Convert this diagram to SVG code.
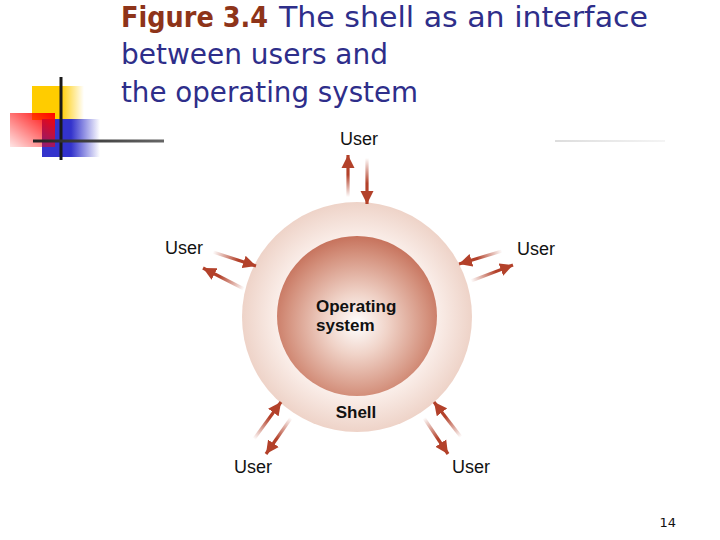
<svg xmlns="http://www.w3.org/2000/svg" width="720" height="540" viewBox="0 0 720 540">
<style>
.title{font-family:"DejaVu Sans","Verdana",sans-serif;font-size:29px;fill:#2e2e8a}
.fig{font-weight:bold;fill:#8e3419}
.user{font-family:"Liberation Sans",Arial,sans-serif;font-size:18px;fill:#111}
.bold{font-family:"Liberation Sans",Arial,sans-serif;font-size:17px;font-weight:bold;fill:#111}
.pg{font-family:"DejaVu Sans",sans-serif;font-size:13px;fill:#111}
.shaft{stroke-width:3.2;fill:none;marker-end:url(#ah)}
</style>
<defs>
<marker id="ah" markerUnits="userSpaceOnUse" markerWidth="14" markerHeight="14" viewBox="0 0 14 14" refX="13" refY="7" orient="auto">
<path d="M0,0.5 L13,7 L0,13.5 Z" fill="#b3412a"/>
</marker>
<radialGradient id="gOuter" cx="0.5" cy="0.5" r="0.5">
<stop offset="0.6" stop-color="#fdf6f3"/>
<stop offset="0.75" stop-color="#f8e9e3"/>
<stop offset="1" stop-color="#eed3c8"/>
</radialGradient>
<radialGradient id="gInner" cx="0.5" cy="0.55" r="0.55">
<stop offset="0" stop-color="#ffffff"/>
<stop offset="0.35" stop-color="#f0d3c8"/>
<stop offset="0.8" stop-color="#d4917d"/>
<stop offset="1" stop-color="#c6725c"/>
</radialGradient>
<linearGradient id="gYel" x1="0" y1="0" x2="1" y2="0">
<stop offset="0.55" stop-color="#ffcc00"/>
<stop offset="1" stop-color="#ffcc00" stop-opacity="0"/>
</linearGradient>
<linearGradient id="gRed" x1="0" y1="1" x2="1" y2="0">
<stop offset="0" stop-color="#ff0000" stop-opacity="0.1"/>
<stop offset="1" stop-color="#ff0000"/>
</linearGradient>
<linearGradient id="gBlue" x1="0" y1="0" x2="1" y2="0">
<stop offset="0.5" stop-color="#3333cc"/>
<stop offset="1" stop-color="#3333cc" stop-opacity="0"/>
</linearGradient>
<linearGradient id="gHl" gradientUnits="userSpaceOnUse" x1="33" y1="0" x2="164" y2="0">
<stop offset="0" stop-color="#222222"/>
<stop offset="1" stop-color="#666666"/>
</linearGradient>
<linearGradient id="gHr" gradientUnits="userSpaceOnUse" x1="555" y1="0" x2="665" y2="0">
<stop offset="0" stop-color="#dddddd"/>
<stop offset="1" stop-color="#f4f4f4"/>
</linearGradient>
<linearGradient id="a1" gradientUnits="userSpaceOnUse" x1="348" y1="197" x2="348" y2="160"><stop offset="0" stop-color="#b3412a" stop-opacity="0"/><stop offset="0.6" stop-color="#b3412a"/></linearGradient>
<linearGradient id="a2" gradientUnits="userSpaceOnUse" x1="367" y1="158" x2="367" y2="200"><stop offset="0" stop-color="#b3412a" stop-opacity="0"/><stop offset="0.6" stop-color="#b3412a"/></linearGradient>
<linearGradient id="a3" gradientUnits="userSpaceOnUse" x1="213" y1="252" x2="255" y2="265"><stop offset="0" stop-color="#b3412a" stop-opacity="0"/><stop offset="0.6" stop-color="#b3412a"/></linearGradient>
<linearGradient id="a4" gradientUnits="userSpaceOnUse" x1="244" y1="289" x2="203" y2="268"><stop offset="0" stop-color="#b3412a" stop-opacity="0"/><stop offset="0.6" stop-color="#b3412a"/></linearGradient>
<linearGradient id="a5" gradientUnits="userSpaceOnUse" x1="502" y1="251" x2="460" y2="263"><stop offset="0" stop-color="#b3412a" stop-opacity="0"/><stop offset="0.6" stop-color="#b3412a"/></linearGradient>
<linearGradient id="a6" gradientUnits="userSpaceOnUse" x1="471" y1="281" x2="512" y2="265"><stop offset="0" stop-color="#b3412a" stop-opacity="0"/><stop offset="0.6" stop-color="#b3412a"/></linearGradient>
<linearGradient id="a7" gradientUnits="userSpaceOnUse" x1="254" y1="439" x2="280" y2="403"><stop offset="0" stop-color="#b3412a" stop-opacity="0"/><stop offset="0.6" stop-color="#b3412a"/></linearGradient>
<linearGradient id="a8" gradientUnits="userSpaceOnUse" x1="291" y1="418" x2="267" y2="453"><stop offset="0" stop-color="#b3412a" stop-opacity="0"/><stop offset="0.6" stop-color="#b3412a"/></linearGradient>
<linearGradient id="a9" gradientUnits="userSpaceOnUse" x1="424" y1="418" x2="447" y2="453"><stop offset="0" stop-color="#b3412a" stop-opacity="0"/><stop offset="0.6" stop-color="#b3412a"/></linearGradient>
<linearGradient id="a10" gradientUnits="userSpaceOnUse" x1="461" y1="437" x2="435" y2="403"><stop offset="0" stop-color="#b3412a" stop-opacity="0"/><stop offset="0.6" stop-color="#b3412a"/></linearGradient>
</defs>
<rect width="720" height="540" fill="#ffffff"/>

<g id="logo">
<rect x="32" y="86" width="52" height="34" fill="url(#gYel)"/>
<rect x="42" y="119" width="58" height="38" fill="url(#gBlue)"/>
<rect x="10" y="113" width="45" height="34" fill="url(#gRed)"/>
<line x1="61" y1="77" x2="61" y2="160" stroke="#1a1a1a" stroke-width="3"/>
<line x1="33" y1="141" x2="164" y2="141" stroke="url(#gHl)" stroke-width="3"/>
<line x1="555" y1="141" x2="665" y2="141" stroke="url(#gHr)" stroke-width="2"/>
</g>

<g id="title">
<text class="title fig" x="121" y="27" textLength="147" lengthAdjust="spacingAndGlyphs">Figure 3.4</text>
<text class="title" x="279" y="27" textLength="369" lengthAdjust="spacingAndGlyphs">The shell as an interface</text>
<text class="title" x="121" y="64" textLength="267" lengthAdjust="spacingAndGlyphs">between users and</text>
<text class="title" x="121" y="102" textLength="297" lengthAdjust="spacingAndGlyphs">the operating system</text>
</g>

<g id="shell">
<circle cx="357" cy="317" r="115" fill="url(#gOuter)"/>
<text class="bold" x="356" y="418" text-anchor="middle">Shell</text>
</g>

<g id="os">
<circle cx="357" cy="316" r="80" fill="url(#gInner)"/>
<text class="bold" x="316" y="312">Operating</text>
<text class="bold" x="316" y="331">system</text>
</g>

<g id="user-top"><text class="user" x="359" y="145" text-anchor="middle">User</text></g>
<g id="user-left"><text class="user" x="184" y="254" text-anchor="middle">User</text></g>
<g id="user-right"><text class="user" x="536" y="255" text-anchor="middle">User</text></g>
<g id="user-bottom-left"><text class="user" x="253" y="473" text-anchor="middle">User</text></g>
<g id="user-bottom-right"><text class="user" x="471" y="473" text-anchor="middle">User</text></g>

<g id="connectors">
<line class="shaft" stroke="url(#a1)" x1="348" y1="197" x2="348" y2="155"/>
<line class="shaft" stroke="url(#a2)" x1="367" y1="158" x2="367" y2="204"/>
<line class="shaft" stroke="url(#a3)" x1="213" y1="252" x2="256" y2="266"/>
<line class="shaft" stroke="url(#a4)" x1="244" y1="289" x2="203" y2="268"/>
<line class="shaft" stroke="url(#a5)" x1="502" y1="251" x2="459" y2="264"/>
<line class="shaft" stroke="url(#a6)" x1="471" y1="281" x2="513" y2="265"/>
<line class="shaft" stroke="url(#a7)" x1="254" y1="439" x2="281" y2="402"/>
<line class="shaft" stroke="url(#a8)" x1="291" y1="418" x2="266" y2="454"/>
<line class="shaft" stroke="url(#a9)" x1="424" y1="418" x2="448" y2="454"/>
<line class="shaft" stroke="url(#a10)" x1="461" y1="437" x2="434" y2="402"/>
</g>

<g id="page"><text class="pg" x="676" y="527" text-anchor="end">14</text></g>
</svg>
